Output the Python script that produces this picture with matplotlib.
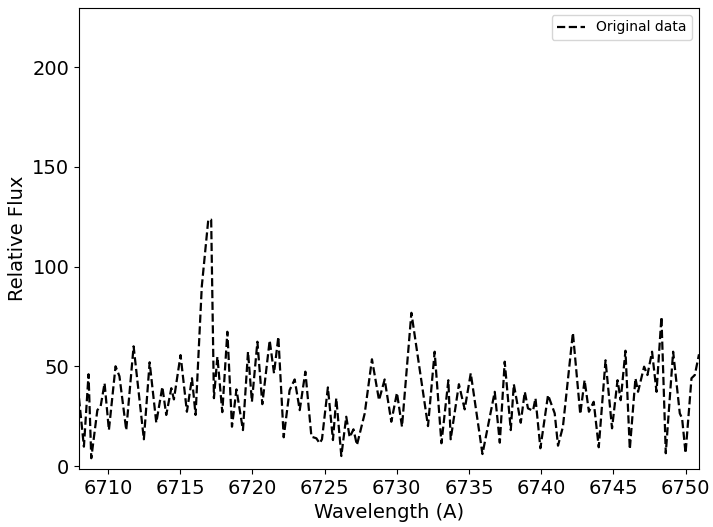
import matplotlib.pyplot as plt

# wavelength (A) and relative flux
wavelength = [6708.00, 6708.34, 6708.66, 6708.85, 6709.27, 6709.50, 6709.77, 6710.07,
              6710.53, 6710.80, 6711.27, 6711.78, 6712.49, 6712.89, 6713.35, 6713.77,
              6714.04, 6714.39, 6714.57, 6715.03, 6715.47, 6715.82, 6716.07, 6716.50,
              6716.95, 6717.15, 6717.34, 6717.58, 6717.92, 6718.27, 6718.59, 6718.90,
              6719.35, 6719.70, 6719.97, 6720.35, 6720.69, 6721.20, 6721.50, 6721.80,
              6722.17, 6722.58, 6722.93, 6723.28, 6723.67, 6724.09, 6724.43, 6724.66,
              6724.82, 6725.23, 6725.58, 6725.81, 6726.16, 6726.50, 6726.74, 6727.00,
              6727.24, 6727.78, 6728.28, 6728.77, 6729.16, 6729.62, 6730.01, 6730.36,
              6731.01, 6732.16, 6732.62, 6733.09, 6733.57, 6733.73, 6734.30, 6734.70,
              6735.12, 6735.93, 6736.78, 6737.13, 6737.47, 6737.89, 6738.10, 6738.58,
              6738.86, 6739.08, 6739.43, 6739.60, 6739.94, 6740.47, 6740.93, 6741.16,
              6741.50, 6742.19, 6742.70, 6743.00, 6743.30, 6743.63, 6743.98, 6744.45,
              6744.90, 6745.28, 6745.50, 6745.83, 6746.13, 6746.52, 6746.70, 6747.12,
              6747.35, 6747.67, 6747.98, 6748.32, 6748.62, 6749.13, 6749.59, 6749.75,
              6749.99, 6750.40, 6750.63, 6750.92]
flux = [34.0, 9.7, 46.0, 3.9, 28.0, 30.0, 41.5, 18.0,
        50.0, 45.0, 18.0, 60.0, 13.4, 52.0, 21.7, 39.7,
        25.6, 39.0, 33.4, 55.6, 27.2, 44.0, 25.6, 90.0,
        123.5, 123.5, 34.0, 54.8, 27.0, 67.3, 19.7, 38.4,
        18.0, 57.3, 32.2, 62.3, 31.0, 63.0, 46.5, 64.8,
        14.4, 38.0, 43.4, 28.0, 47.3, 14.7, 13.9, 11.4,
        13.4, 39.4, 13.0, 34.0, 5.0, 24.7, 14.4, 18.4,
        10.5, 26.4, 53.5, 33.0, 43.4, 22.2, 36.7, 19.7,
        76.8, 20.0, 57.3, 11.4, 43.0, 13.4, 41.0, 28.4,
        46.5, 6.0, 37.2, 11.7, 52.3, 18.0, 41.0, 21.7,
        37.2, 28.9, 27.7, 34.0, 8.9, 35.6, 26.4, 10.2,
        19.7, 66.8, 26.0, 43.0, 27.2, 32.2, 9.4, 53.0,
        18.9, 43.0, 33.0, 57.8, 8.4, 44.0, 37.2, 49.8,
        45.6, 57.3, 37.2, 74.8, 6.4, 57.3, 26.4, 23.9,
        6.4, 44.0, 45.6, 56.0]

fig = plt.figure(figsize=(7.13, 5.27), dpi=100)
ax = fig.add_axes([79 / 713, 1 - 469 / 527, 620 / 713, 461 / 527])

ax.plot(wavelength, flux, 'k--', linewidth=1.6, label='Original data')

ax.set_xlim(6708.0, 6750.92)
ax.set_ylim(-1.5, 229.6)
ax.set_xlabel('Wavelength (A)', fontsize=14)
ax.set_ylabel('Relative Flux', fontsize=14)
ax.tick_params(labelsize=14)
ax.legend(loc='upper right', fontsize=10)

plt.savefig('out.png', dpi=100)
